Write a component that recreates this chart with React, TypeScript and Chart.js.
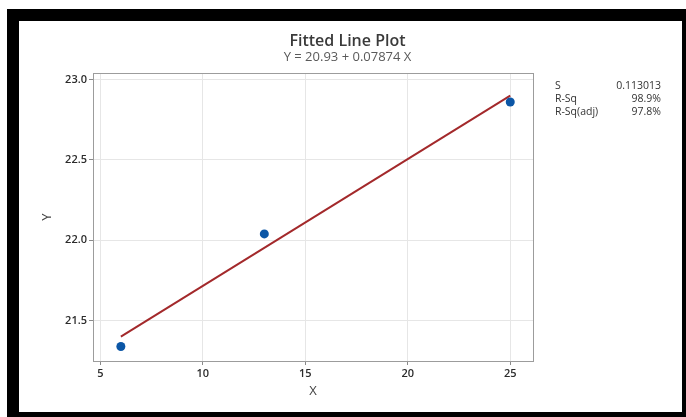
import React, { useEffect, useRef } from "react";
import { Chart, registerables } from "chart.js";

Chart.register(...registerables);

// ---- data ----
const xValues = [6, 13, 25];
const yValues = [21.34, 22.04, 22.86];
const fitX = [6, 25];
const fitY = [21.402, 22.899];
const xTicks = [5, 10, 15, 20, 25];
const yTicks = [21.5, 22.0, 22.5, 23.0];
const titleText = "Fitted Line Plot";
const equationText = "Y = 20.93 + 0.07874 X";
const statLabels = ["S", "R-Sq", "R-Sq(adj)"];
const statValues = ["0.113013", "98.9%", "97.8%"];
const xLabel = "X";
const yLabel = "Y";

const FONT = "'Open Sans', 'Noto Sans', sans-serif";

const textPlugin = {
  id: "minitabText",
  afterDraw(chart: any) {
    const { ctx, chartArea, width } = chart;
    ctx.save();
    // plot frame
    ctx.strokeStyle = "#9c9c9c";
    ctx.lineWidth = 1;
    const l = Math.round(chartArea.left) + 0.5;
    const t = Math.round(chartArea.top) + 0.5;
    const r = Math.round(chartArea.right) + 0.5;
    const b = Math.round(chartArea.bottom) + 0.5;
    ctx.strokeRect(l, t, r - l, b - t);

    // title + equation
    const cx = width / 2 - 3;
    ctx.textAlign = "center";
    ctx.textBaseline = "alphabetic";
    ctx.fillStyle = "#3a3a3a";
    ctx.font = `600 16px ${FONT}`;
    ctx.fillText(titleText, cx, 25);
    ctx.fillStyle = "#5a5a5a";
    ctx.font = `13px ${FONT}`;
    ctx.fillText(equationText, cx, 40);

    // statistics
    ctx.font = `500 10.5px ${FONT}`;
    ctx.fillStyle = "#333333";
    statLabels.forEach((s, i) => {
      ctx.textAlign = "left";
      ctx.fillText(s, 536, 68 + i * 13);
      ctx.textAlign = "right";
      ctx.fillText(statValues[i], 642, 68 + i * 13);
    });
    ctx.restore();
  },
};

export default function App() {
  const ref = useRef<HTMLCanvasElement | null>(null);

  useEffect(() => {
    if (!ref.current) return;
    const chart = new Chart(ref.current, {
      type: "scatter",
      data: {
        datasets: [
          {
            label: "Data",
            data: xValues.map((x, i) => ({ x, y: yValues[i] })),
            backgroundColor: "#0b56a6",
            borderColor: "#0b56a6",
            pointRadius: 4.5,
            pointBorderWidth: 0,
            showLine: false,
          },
          {
            label: "Fit",
            data: fitX.map((x, i) => ({ x, y: fitY[i] })),
            borderColor: "#a3292b",
            backgroundColor: "#a3292b",
            borderWidth: 2,
            pointRadius: 0,
            showLine: true,
          },
        ],
      },
      options: {
        animation: false,
        responsive: false,
        devicePixelRatio: 1,
        layout: { padding: { top: 52, right: 149, left: 0, bottom: 0 } },
        plugins: {
          legend: { display: false },
          title: { display: false },
          tooltip: { enabled: false },
        },
        scales: {
          x: {
            type: "linear",
            min: 4.64,
            max: 26.11,
            afterFit: (s: any) => {
              s.height = 51;
            },
            afterBuildTicks: (s: any) => {
              s.ticks = xTicks.map((v) => ({ value: v }));
            },
            ticks: {
              color: "#2b2b2b",
              font: { family: FONT, size: 11, weight: "600" },
              padding: 2,
              maxRotation: 0,
              callback: (v: any) => String(v),
            },
            grid: { color: "#e6e6e6", tickColor: "#8a8a8a", tickLength: 4 },
            border: { display: true, color: "#9c9c9c" },
            title: {
              display: true,
              text: xLabel,
              color: "#444444",
              font: { family: FONT, size: 13 },
              padding: { top: 0, bottom: 13 },
            },
          },
          y: {
            type: "linear",
            min: 21.25,
            max: 23.04,
            afterFit: (s: any) => {
              s.width = 74;
            },
            afterBuildTicks: (s: any) => {
              s.ticks = yTicks.map((v) => ({ value: v }));
            },
            ticks: {
              color: "#2b2b2b",
              font: { family: FONT, size: 11, weight: "600" },
              padding: 2,
              callback: (v: any) => Number(v).toFixed(1),
            },
            grid: { color: "#e6e6e6", tickColor: "#8a8a8a", tickLength: 4 },
            border: { display: true, color: "#9c9c9c" },
            title: {
              display: true,
              text: yLabel,
              color: "#444444",
              font: { family: FONT, size: 13 },
              padding: { top: 20, bottom: 0 },
            },
          },
        },
      },
      plugins: [textPlugin],
    });
    return () => chart.destroy();
  }, []);

  return (
    <div
      style={{
        position: "fixed",
        left: 7,
        top: 9,
        width: 679,
        height: 408,
        boxSizing: "border-box",
        borderStyle: "solid",
        borderColor: "#000",
        borderWidth: "12px 4px 5px 12px",
        background: "#fff",
        overflow: "hidden",
      }}
    >
      <canvas ref={ref} width={663} height={391} style={{ display: "block" }} />
    </div>
  );
}
